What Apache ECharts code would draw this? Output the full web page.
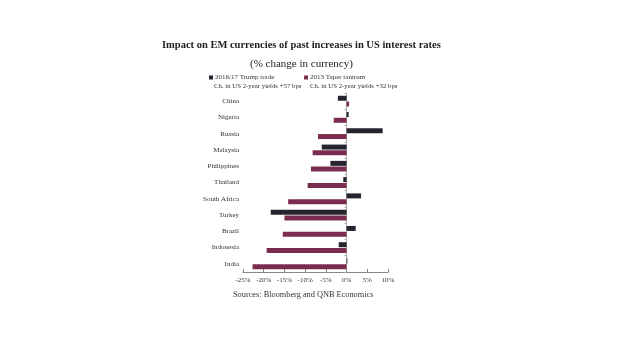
<!DOCTYPE html>
<html><head><meta charset="utf-8">
<script src="https://cdn.jsdelivr.net/npm/echarts@6/dist/echarts.min.js"></script>
<style>html,body{margin:0;padding:0;background:#fff}#c{width:620px;height:355px}</style>
</head><body><div id="c"></div>
<script>
const categories = ['China','Nigeria','Russia','Malaysia','Philippines','Thailand','South Africa','Turkey','Brazil','Indonesia','India'];
const trump = [-2.1, 0.5, 8.7, -6.0, -3.9, -0.8, 3.5, -18.3, 2.2, -1.9, 0.2];
const taper = [0.6, -3.1, -6.9, -8.2, -8.6, -9.4, -14.1, -15.0, -15.4, -19.3, -22.7];
const seriesNames = ['2016/17 Trump trade', '2013 Taper tantrum'];
const seriesNotes = ['Ch. in US 2-year yields +57 bps', 'Ch. in US 2-year yields +32 bps'];
const xTicks = [-25, -20, -15, -10, -5, 0, 5, 10];

const F = '"Liberation Serif", "DejaVu Serif", serif';
const chart = echarts.init(document.getElementById('c'), null, {renderer: 'canvas'});
chart.setOption({
  animation: false,
  backgroundColor: '#fff',
  title: [
    {text: 'Impact on EM currencies of past increases in US interest rates', left: 157, top: 35,
     textStyle: {fontFamily: F, fontWeight: 'bold', fontSize: 10.5, color: '#1e1e1e'}},
    {text: '(% change in currency)', left: 245, top: 54,
     textStyle: {fontFamily: F, fontWeight: 'normal', fontSize: 11, color: '#222'}},
    {text: seriesNotes[0], left: 209, top: 78, textStyle: {fontFamily: F, fontWeight: 'normal', fontSize: 6.8, color: '#333'}},
    {text: seriesNotes[1], left: 305, top: 78, textStyle: {fontFamily: F, fontWeight: 'normal', fontSize: 6.8, color: '#333'}},
    {text: 'Sources: Bloomberg and QNB Economics', left: 228, top: 286,
     textStyle: {fontFamily: F, fontWeight: 'normal', fontSize: 8.3, color: '#333'}}
  ],
  legend: [
    {data: [seriesNames[0]], left: 204, top: 69, itemWidth: 4, itemHeight: 4,
     icon: 'rect', textStyle: {fontFamily: F, fontSize: 7, color: '#333', padding: [0,0,0,-3]}},
    {data: [seriesNames[1]], left: 299, top: 69, itemWidth: 4, itemHeight: 4,
     icon: 'rect', textStyle: {fontFamily: F, fontSize: 7, color: '#333', padding: [0,0,0,-3]}}
  ],
  grid: {left: 243, right: 232, top: 93, bottom: 83, containLabel: false},
  xAxis: {
    type: 'value', min: -25, max: 10, interval: 5,
    axisLine: {show: true, lineStyle: {color: '#888', width: 1}},
    axisTick: {show: true, inside: true, length: 3, lineStyle: {color: '#888'}},
    splitLine: {show: false},
    axisLabel: {fontFamily: F, fontSize: 7, color: '#333', margin: 5,
      formatter: v => xTicks.includes(v) ? v + '%' : ''}
  },
  yAxis: {
    type: 'category', data: categories, inverse: true,
    axisLine: {show: true, onZero: true, lineStyle: {color: '#aaa', width: 1}},
    axisTick: {show: true, length: 2, lineStyle: {color: '#aaa'}},
    axisLabel: {fontFamily: F, fontSize: 7, color: '#333', margin: 4},
    position: 'left'
  },
  series: [
    {name: seriesNames[0], type: 'bar', data: trump, barWidth: 5, barGap: '15%', itemStyle: {color: '#25232e'}},
    {name: seriesNames[1], type: 'bar', data: taper, barWidth: 5, itemStyle: {color: '#7b2d4f'}}
  ]
});
</script></body></html>
